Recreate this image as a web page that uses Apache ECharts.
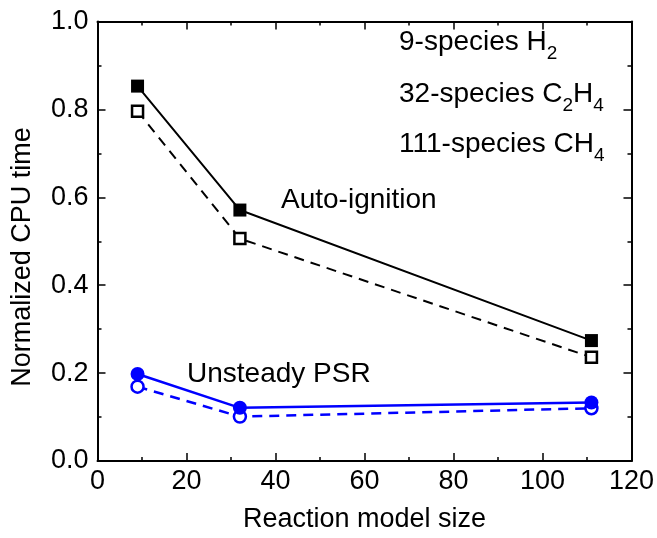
<!DOCTYPE html>
<html>
<head>
<meta charset="utf-8">
<script src="https://cdn.jsdelivr.net/npm/echarts@6/dist/echarts.min.js"></script>
<style>
html,body{margin:0;padding:0;background:#fff;}
#chart{width:657px;height:538px;}
</style>
</head>
<body>
<div id="chart"></div>
<script>
// Data
const modelSize = [9, 32, 111];
const autoIgnitionNew = [0.853, 0.571, 0.274];
const autoIgnitionOld = [0.796, 0.506, 0.236];
const psrNew = [0.198, 0.121, 0.133];
const psrOld = [0.169, 0.101, 0.120];
const xTicks = [0, 20, 40, 60, 80, 100, 120];
const yTicks = [0.0, 0.2, 0.4, 0.6, 0.8, 1.0];
const mechLabels = [["9-species H", "2"], ["32-species C", "2", "H", "4"], ["111-species CH", "4"]];

const FONT = 'Liberation Sans, Arial, sans-serif';
const FS = 27;
const chart = echarts.init(document.getElementById('chart'), null, {renderer: 'canvas'});

function pairs(xs, ys) { return xs.map((x, i) => [x, ys[i]]); }

const axisCommon = {
  axisLine: {show: true, onZero: false, lineStyle: {color: '#000', width: 2}},
  axisTick: {show: true, inside: true, length: 8, lineStyle: {color: '#000', width: 1.5}},
  minorTick: {show: true, splitNumber: 2, length: 4, lineStyle: {color: '#000', width: 1.5}},
  splitLine: {show: false}
};

const option = {
  animation: false,
  backgroundColor: '#fff',
  grid: {left: 97.5, right: 25, top: 21.5, bottom: 77, containLabel: false},
  xAxis: [
    Object.assign({}, axisCommon, {
      type: 'value', min: xTicks[0], max: xTicks[xTicks.length - 1], interval: 20, position: 'bottom',
      name: 'Reaction model size', nameLocation: 'middle', nameGap: 45,
      nameTextStyle: {fontFamily: FONT, fontSize: FS, color: '#000'},
      axisLabel: {fontFamily: FONT, fontSize: FS, color: '#000', margin: 7}
    }),
    Object.assign({}, axisCommon, {
      type: 'value', min: xTicks[0], max: xTicks[xTicks.length - 1], interval: 20, position: 'top',
      axisLabel: {show: false}
    })
  ],
  yAxis: [
    Object.assign({}, axisCommon, {
      type: 'value', min: yTicks[0], max: yTicks[yTicks.length - 1], interval: 0.2, position: 'left',
      axisLabel: {fontFamily: FONT, fontSize: FS, color: '#000', margin: 9, formatter: v => v.toFixed(1)}
    }),
    Object.assign({}, axisCommon, {
      type: 'value', min: yTicks[0], max: yTicks[yTicks.length - 1], interval: 0.2, position: 'right',
      axisLabel: {show: false}
    })
  ],
  series: [
    {
      type: 'line', data: pairs(modelSize, autoIgnitionOld), symbol: 'rect', symbolSize: 11,
      lineStyle: {color: '#000', width: 2, type: [10, 7]},
      itemStyle: {color: '#fff', borderColor: '#000', borderWidth: 2.5}, z: 3
    },
    {
      type: 'line', data: pairs(modelSize, autoIgnitionNew), symbol: 'rect', symbolSize: 13,
      lineStyle: {color: '#000', width: 2},
      itemStyle: {color: '#000', borderColor: '#000', borderWidth: 0}, z: 4
    },
    {
      type: 'line', data: pairs(modelSize, psrOld), symbol: 'circle', symbolSize: 12,
      lineStyle: {color: '#0000ff', width: 2.5, type: [10, 7]},
      itemStyle: {color: '#fff', borderColor: '#0000ff', borderWidth: 2.5}, z: 3
    },
    {
      type: 'line', data: pairs(modelSize, psrNew), symbol: 'circle', symbolSize: 14,
      lineStyle: {color: '#0000ff', width: 2.5},
      itemStyle: {color: '#0000ff', borderWidth: 0}, z: 4
    }
  ],
  graphic: []
};

const rich = {
  m: {fontFamily: FONT, fontSize: 28, color: '#000', verticalAlign: 'bottom'},
  s: {fontFamily: FONT, fontSize: 19, color: '#000', verticalAlign: 'bottom', padding: [0, 0, -7, 0]}
};
function richText(parts) {
  return parts.map((p, i) => (i % 2 === 0 ? '{m|' : '{s|') + p + '}').join('');
}
const mechY = [44, 96, 146];
mechLabels.forEach((parts, i) => {
  option.graphic.push({
    type: 'text', left: 399, top: mechY[i] - 16, z: 10,
    style: {text: richText(parts), rich: rich, fill: '#000'}
  });
});
option.graphic.push({
  type: 'text', left: 281, top: 201 - 15, z: 10,
  style: {text: 'Auto-ignition', fontFamily: FONT, fontSize: 28, fill: '#000'}
});
option.graphic.push({
  type: 'text', left: 187, top: 375 - 15, z: 10,
  style: {text: 'Unsteady PSR', fontFamily: FONT, fontSize: 28, fill: '#000'}
});
option.graphic.push({
  type: 'text', x: 23, y: 257, rotation: Math.PI / 2, z: 10,
  style: {text: 'Normalized CPU time', fontFamily: FONT, fontSize: FS, fill: '#000', align: 'center', verticalAlign: 'middle'}
});

chart.setOption(option);
</script>
</body>
</html>
